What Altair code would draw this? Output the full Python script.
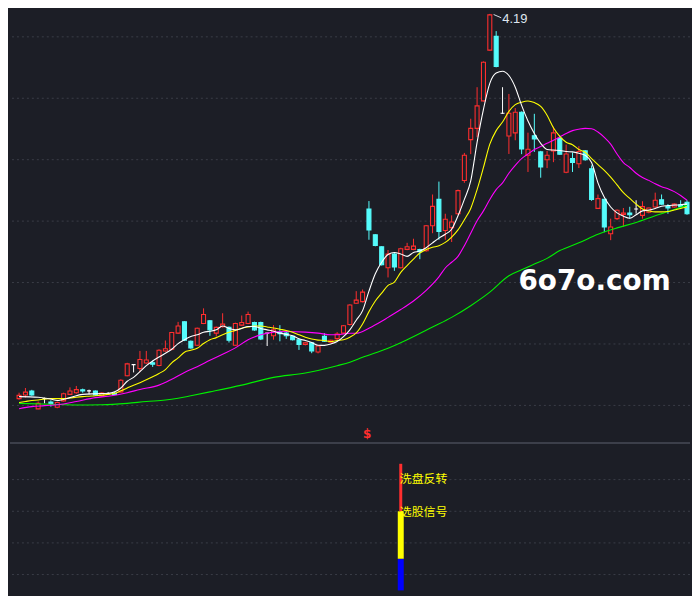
import altair as alt
import pandas as pd

BG = "#1c1e26"
GRID = "#3a3d48"
SEP = "#474b57"
RED = "#ff2e2e"
CYAN = "#55fcfc"
WHITE = "#ffffff"
YELLOW = "#ffff00"
MAGENTA = "#ff00ff"
GREEN = "#00f000"
BLUE = "#0000ff"

# ---------------- candles (open, high, low, close) ----------------
opens = [2.311, 2.329, 2.348, 2.261, 2.311, 2.295, 2.269, 2.300, 2.332, 2.340,
         2.354, 2.349, 2.348, 2.324, 2.335, 2.337, 2.344, 2.423, 2.477, 2.458,
         2.485, 2.486, 2.473, 2.544, 2.552, 2.631, 2.686, 2.591, 2.572, 2.678,
         2.691, 2.631, 2.662, 2.659, 2.572, 2.670, 2.678, 2.683, 2.683, 2.631,
         2.618, 2.636, 2.631, 2.615, 2.599, 2.576, 2.584, 2.539, 2.615, 2.587,
         2.604, 2.631, 2.673, 2.777, 2.785, 3.237, 3.111, 3.053, 2.950, 3.017,
         2.950, 3.040, 3.040, 3.039, 3.033, 3.155, 3.284, 3.132, 3.146, 3.214,
         3.376, 3.576, 3.631, 3.765, 4.013, 4.080, 3.705, 3.594, 3.609, 3.710,
         3.500, 3.595, 3.516, 3.478, 3.521, 3.582, 3.417, 3.484, 3.458, 3.521,
         3.434, 3.240, 3.284, 3.116, 3.190, 3.210, 3.218, 3.237, 3.206, 3.221,
         3.247, 3.282, 3.249, 3.247, 3.258, 3.270]
highs = [2.340, 2.363, 2.354, 2.297, 2.316, 2.303, 2.297, 2.340, 2.366, 2.373,
         2.360, 2.355, 2.351, 2.342, 2.343, 2.344, 2.406, 2.486, 2.479, 2.544,
         2.544, 2.497, 2.552, 2.595, 2.637, 2.686, 2.689, 2.595, 2.658, 2.752,
         2.694, 2.663, 2.728, 2.663, 2.682, 2.717, 2.736, 2.687, 2.687, 2.632,
         2.670, 2.670, 2.643, 2.618, 2.602, 2.588, 2.588, 2.571, 2.631, 2.599,
         2.636, 2.670, 2.772, 2.836, 2.844, 3.276, 3.114, 3.055, 3.037, 3.022,
         3.048, 3.072, 3.092, 3.043, 3.159, 3.308, 3.371, 3.214, 3.206, 3.332,
         3.511, 3.678, 3.832, 3.958, 4.190, 4.106, 3.832, 3.799, 3.730, 3.714,
         3.610, 3.702, 3.521, 3.521, 3.639, 3.596, 3.552, 3.513, 3.544, 3.525,
         3.450, 3.308, 3.287, 3.190, 3.235, 3.242, 3.248, 3.280, 3.275, 3.244,
         3.317, 3.308, 3.261, 3.265, 3.280, 3.280]
lows = [2.306, 2.316, 2.325, 2.259, 2.288, 2.272, 2.264, 2.297, 2.330, 2.335,
        2.340, 2.332, 2.325, 2.321, 2.329, 2.328, 2.340, 2.420, 2.439, 2.442,
        2.481, 2.466, 2.469, 2.540, 2.547, 2.628, 2.592, 2.555, 2.569, 2.675,
        2.618, 2.615, 2.658, 2.585, 2.569, 2.666, 2.675, 2.642, 2.597, 2.568,
        2.599, 2.591, 2.603, 2.595, 2.549, 2.571, 2.533, 2.532, 2.588, 2.583,
        2.596, 2.628, 2.668, 2.774, 2.781, 3.087, 3.055, 2.961, 2.903, 2.935,
        2.947, 3.036, 3.036, 2.992, 3.029, 3.119, 3.087, 3.087, 3.076, 3.209,
        3.365, 3.505, 3.588, 3.762, 4.010, 3.929, 3.702, 3.506, 3.573, 3.505,
        3.418, 3.516, 3.390, 3.437, 3.466, 3.502, 3.412, 3.418, 3.437, 3.473,
        3.277, 3.237, 3.124, 3.085, 3.183, 3.151, 3.190, 3.214, 3.190, 3.216,
        3.244, 3.258, 3.214, 3.244, 3.237, 3.209]
closes = [2.327, 2.343, 2.329, 2.288, 2.311, 2.288, 2.292, 2.335, 2.348, 2.355,
          2.348, 2.349, 2.329, 2.338, 2.335, 2.332, 2.401, 2.481, 2.477, 2.502,
          2.500, 2.479, 2.547, 2.555, 2.634, 2.666, 2.596, 2.559, 2.655, 2.722,
          2.647, 2.659, 2.675, 2.596, 2.678, 2.683, 2.722, 2.647, 2.603, 2.631,
          2.647, 2.628, 2.618, 2.599, 2.576, 2.584, 2.544, 2.568, 2.591, 2.596,
          2.626, 2.667, 2.768, 2.792, 2.831, 3.135, 3.059, 2.965, 3.017, 2.954,
          3.043, 3.053, 3.056, 3.029, 3.155, 3.250, 3.127, 3.187, 3.174, 3.327,
          3.500, 3.631, 3.741, 3.954, 4.185, 3.933, 3.705, 3.705, 3.710, 3.530,
          3.529, 3.579, 3.442, 3.500, 3.609, 3.505, 3.506, 3.465, 3.518, 3.478,
          3.284, 3.288, 3.149, 3.149, 3.231, 3.217, 3.209, 3.237, 3.249, 3.242,
          3.280, 3.261, 3.242, 3.261, 3.249, 3.214]
days = list(range(len(opens)))

# ---------------- moving averages ----------------
ma5_i = [0, 3, 5, 6, 8, 10, 12, 14] + list(range(16, 106))
ma5_v = [2.321, 2.318, 2.309, 2.302, 2.316, 2.332, 2.335, 2.337,
         2.363, 2.396, 2.415, 2.443, 2.472, 2.495, 2.514, 2.533, 2.552, 2.580,
         2.599, 2.614, 2.623, 2.635, 2.640, 2.647, 2.666, 2.654, 2.647, 2.654,
         2.663, 2.663, 2.654, 2.647, 2.640, 2.631, 2.625, 2.618, 2.603, 2.595,
         2.585, 2.572, 2.571, 2.578, 2.590, 2.614, 2.647, 2.694, 2.741, 2.836,
         2.921, 2.977, 3.015, 3.025, 3.017, 3.006, 3.025, 3.032, 3.048, 3.072,
         3.095, 3.114, 3.138, 3.204, 3.284, 3.374, 3.563, 3.724, 3.851, 3.901,
         3.910, 3.889, 3.832, 3.743, 3.667, 3.606, 3.558, 3.528, 3.525, 3.523,
         3.518, 3.516, 3.509, 3.499, 3.464, 3.365, 3.294, 3.247, 3.218, 3.202,
         3.192, 3.209, 3.228, 3.232, 3.240, 3.251, 3.254, 3.256, 3.258, 3.261]

ma10_i = list(range(0, 106))
ma10_v = [2.292, 2.297, 2.302, 2.304, 2.309, 2.311, 2.311, 2.311, 2.314, 2.318,
          2.321, 2.323, 2.325, 2.328, 2.332, 2.337, 2.349, 2.363, 2.377, 2.389,
          2.403, 2.418, 2.434, 2.453, 2.486, 2.510, 2.538, 2.547, 2.557, 2.580,
          2.599, 2.609, 2.623, 2.635, 2.644, 2.655, 2.661, 2.666, 2.666, 2.661,
          2.656, 2.650, 2.644, 2.635, 2.623, 2.611, 2.602, 2.597, 2.595, 2.590,
          2.595, 2.599, 2.611, 2.632, 2.676, 2.736, 2.788, 2.826, 2.864, 2.880,
          2.928, 2.961, 2.992, 3.022, 3.039, 3.050, 3.058, 3.074, 3.100, 3.135,
          3.185, 3.240, 3.332, 3.440, 3.554, 3.620, 3.662, 3.714, 3.747, 3.759,
          3.765, 3.757, 3.738, 3.695, 3.634, 3.592, 3.563, 3.551, 3.528, 3.514,
          3.483, 3.454, 3.426, 3.393, 3.355, 3.317, 3.289, 3.261, 3.237, 3.228,
          3.223, 3.223, 3.225, 3.232, 3.240, 3.247]

ma30_i = [0, 2, 4, 7, 9, 12, 14, 17, 19, 22, 24, 26, 28, 30, 32, 34, 36, 38,
          40, 42, 45, 47, 49, 50, 52, 53, 55, 57, 58, 60, 62, 64, 66, 67, 68,
          69, 70, 71, 72, 73, 74, 75, 76, 77, 78, 79, 80, 81, 82, 83, 84, 85,
          86, 87, 88, 89, 90, 91, 92, 93, 94, 95, 96, 97, 98, 99, 100, 101,
          102, 103, 104, 105]
ma30_v = [2.262, 2.272, 2.277, 2.285, 2.297, 2.316, 2.323, 2.340, 2.356, 2.377,
          2.406, 2.439, 2.467, 2.498, 2.528, 2.559, 2.599, 2.623, 2.636, 2.639,
          2.636, 2.631, 2.623, 2.623, 2.630, 2.630, 2.655, 2.689, 2.708, 2.746,
          2.788, 2.840, 2.906, 2.949, 2.977, 3.006, 3.058, 3.119, 3.180, 3.228,
          3.284, 3.332, 3.365, 3.412, 3.450, 3.483, 3.506, 3.528, 3.542, 3.558,
          3.573, 3.589, 3.606, 3.620, 3.627, 3.631, 3.629, 3.613, 3.587, 3.554,
          3.506, 3.464, 3.440, 3.412, 3.391, 3.377, 3.360, 3.346, 3.336, 3.322,
          3.303, 3.280]

ma60_i = [0, 5, 9, 13, 17, 20, 23, 25, 27, 30, 35, 40, 45, 50, 52, 54, 58, 61,
          65, 68, 71, 74, 77, 79, 81, 83, 85, 88, 91, 94, 97, 100, 103, 105]
ma60_v = [2.288, 2.284, 2.280, 2.281, 2.288, 2.297, 2.304, 2.313, 2.325, 2.344,
          2.377, 2.415, 2.436, 2.472, 2.489, 2.513, 2.557, 2.599, 2.661, 2.708,
          2.765, 2.831, 2.911, 2.940, 2.968, 2.996, 3.034, 3.072, 3.114, 3.145,
          3.171, 3.204, 3.235, 3.256]

grid_main = [4.078, 3.778, 3.478, 3.178, 2.878, 2.578, 2.278]

# ---------------- lower panel signal ----------------
sig_day = 60
seg_name = ["blue", "yellow", "red"]
seg_lo = [0.0, 1.0, 2.5]
seg_hi = [1.0, 2.5, 4.0]
sig_labels = ["洗盘反转", "选股信号"]
sig_label_v = [3.53, 2.49]
grid_low = [0.5, 1.5, 2.5, 3.5]

# peak annotation / markers
peak_day = 74
peak_text = "4.19"
dollar_day = 54.7
dollar_v = 2.138

W = 684
H_MAIN = 432
H_LOW = 152

xs = alt.Scale(domain=[-0.647, 104.69], nice=False, zero=False)
ys = alt.Scale(domain=[2.1081, 4.2056], nice=False, zero=False)
ys2 = alt.Scale(domain=[-0.092, 4.683], nice=False, zero=False)

df = pd.DataFrame({"i": days, "o": opens, "h": highs, "l": lows, "c": closes})
df["kind"] = ["up" if c > o else ("down" if c < o else "flat")
              for o, c in zip(opens, closes)]
kinds = ["up", "down", "flat"]
stroke_sc = alt.Scale(domain=kinds, range=[RED, CYAN, WHITE])
fill_sc = alt.Scale(domain=kinds, range=[BG, CYAN, WHITE])

X = alt.X("i:Q", scale=xs, axis=None)

grid_m = alt.Chart(pd.DataFrame({"p": grid_main})).mark_rule(
    color=GRID, strokeDash=[2, 3], strokeWidth=1
).encode(y=alt.Y("p:Q", scale=ys, axis=None))

base = alt.Chart(df)
wick = base.mark_rule(strokeWidth=1, clip=True).encode(
    x=X, y=alt.Y("l:Q", scale=ys, axis=None), y2="h:Q",
    color=alt.Color("kind:N", scale=stroke_sc, legend=None))
body = base.mark_bar(size=4, strokeWidth=1.1, clip=True).encode(
    x=X, y=alt.Y("o:Q", scale=ys, axis=None), y2="c:Q",
    fill=alt.Fill("kind:N", scale=fill_sc, legend=None),
    stroke=alt.Stroke("kind:N", scale=stroke_sc, legend=None))


def ma_line(ii, vv, col):
    return alt.Chart(pd.DataFrame({"i": ii, "v": vv})).mark_line(
        color=col, strokeWidth=1.1, interpolate="monotone", clip=True
    ).encode(x=X, y=alt.Y("v:Q", scale=ys, axis=None))


l60 = ma_line(ma60_i, ma60_v, GREEN)
l30 = ma_line(ma30_i, ma30_v, MAGENTA)
l10 = ma_line(ma10_i, ma10_v, YELLOW)
l5 = ma_line(ma5_i, ma5_v, WHITE)

peak_df = pd.DataFrame({"i": [peak_day + 0.6], "v": [highs[peak_day] - 0.003],
                        "i2": [peak_day + 1.8], "v2": [highs[peak_day] - 0.019]})
peak_line = alt.Chart(peak_df).mark_rule(color="#d8dde6", strokeWidth=1).encode(
    x=X, y=alt.Y("v:Q", scale=ys, axis=None), x2="i2:Q", y2="v2:Q")
peak_lbl = alt.Chart(pd.DataFrame({"i": [peak_day + 1.95], "v": [highs[peak_day] - 0.025],
                                   "t": [peak_text]})).mark_text(
    align="left", baseline="middle", font="Liberation Sans", fontSize=13,
    color="#dfe6ef").encode(x=X, y=alt.Y("v:Q", scale=ys, axis=None), text="t:N")

dollar = alt.Chart(pd.DataFrame({"i": [dollar_day], "v": [dollar_v], "t": ["$"]})).mark_text(
    align="center", baseline="middle", fontSize=12, fontWeight="bold",
    font="DejaVu Sans", color=RED).encode(
    x=X, y=alt.Y("v:Q", scale=ys, axis=None), text="t:N")

wm = alt.Chart(pd.DataFrame({"i": [90.47], "v": [2.844], "t": ["6o7o.com"]})).mark_text(
    align="center", baseline="alphabetic", font="DejaVu Sans", fontWeight="bold",
    fontSize=28, color="#ffffff").encode(
    x=X, y=alt.Y("v:Q", scale=ys, axis=None), text="t:N")

main = alt.layer(grid_m, wick, body, l60, l30, l10, l5, peak_line, peak_lbl,
                 dollar, wm).properties(width=W, height=H_MAIN)

# ---------------- lower panel ----------------
grid_l = alt.Chart(pd.DataFrame({"p": grid_low})).mark_rule(
    color=GRID, strokeDash=[2, 3], strokeWidth=1
).encode(y=alt.Y("p:Q", scale=ys2, axis=None))

sep = alt.Chart(pd.DataFrame({"a": [0]})).mark_rule(color=SEP, strokeWidth=1.5).encode(
    x=alt.value(0), x2=alt.value(W), y=alt.value(0.75))

sig_df = pd.DataFrame({"i": [sig_day] * 3, "lo": seg_lo, "hi": seg_hi, "s": seg_name})
seg_sc = alt.Scale(domain=seg_name, range=[BLUE, YELLOW, RED])
wide = alt.Chart(sig_df).transform_filter(alt.datum.s != "red").mark_bar(size=6).encode(
    x=X, y=alt.Y("lo:Q", scale=ys2, axis=None), y2="hi:Q",
    color=alt.Color("s:N", scale=seg_sc, legend=None))
narrow = alt.Chart(sig_df).transform_filter(alt.datum.s == "red").mark_bar(size=3).encode(
    x=X, y=alt.Y("lo:Q", scale=ys2, axis=None), y2="hi:Q",
    color=alt.Color("s:N", scale=seg_sc, legend=None))
lbls = alt.Chart(pd.DataFrame({"i": [sig_day] * 2, "v": sig_label_v, "t": sig_labels})).mark_text(
    align="left", baseline="middle", dx=-1, fontSize=12, font="Noto Sans CJK SC",
    color=YELLOW).encode(x=X, y=alt.Y("v:Q", scale=ys2, axis=None), text="t:N")

low = alt.layer(grid_l, wide, narrow, lbls, sep).properties(width=W, height=H_LOW)

chart = alt.vconcat(main, low, spacing=0, padding=0, background=BG).resolve_scale(
    x="independent", y="independent", color="independent"
).configure_view(stroke="transparent")

chart.save("out.html", embed_options={"renderer": "svg", "actions": False})
